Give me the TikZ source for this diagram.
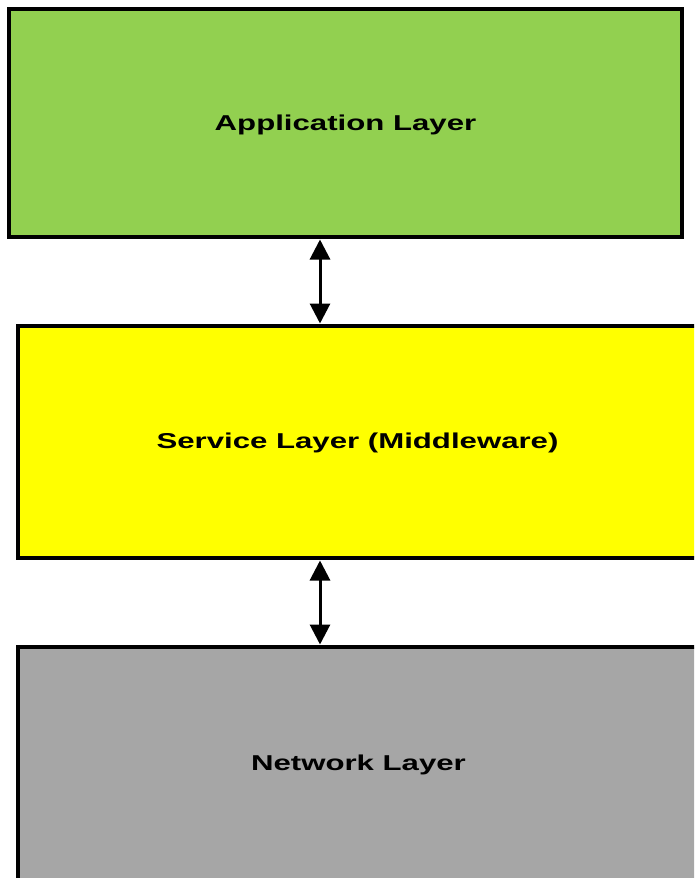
\documentclass[tikz,border=0pt]{standalone}
\usepackage{fontspec}
\setmainfont{Liberation Sans}
\usetikzlibrary{arrows.meta}
\definecolor{appgreen}{HTML}{92D050}
\definecolor{srvyellow}{HTML}{FFFF00}
\definecolor{netgray}{HTML}{A6A6A6}
\tikzset{
  layer/.style={draw=black, line width=3.2pt, inner sep=0pt},
  lbl/.style={font=\fontsize{21.5}{25}\selectfont\bfseries, text=black},
  link/.style={line width=3pt, {Triangle[width=20pt,length=20pt]}-{Triangle[width=20pt,length=20pt]}, shorten <=1pt, shorten >=1pt}
}
\newcommand{\wide}[1]{\scalebox{1.45}[1]{#1}}
\begin{document}
\begin{tikzpicture}[x=1pt,y=-1pt]
  \clip (0,0) rectangle (694,878);
  \fill[white] (0,0) rectangle (694,878);
  % layer boxes
  \draw[layer, fill=appgreen] (9,9) rectangle (682,237);
  \draw[layer, fill=srvyellow] (18,326) rectangle (698,558);
  \draw[layer, fill=netgray] (18,647) rectangle (698,882);
  % labels
  \node[lbl] (app) at (345.5,125) {\wide{Application Layer}};
  \node[lbl] (srv) at (357.5,443) {\wide{Service Layer (Middleware)}};
  \node[lbl] (net) at (358.5,765) {\wide{Network Layer}};
  % connector end points on the box edges
  \coordinate (a1) at (320,238.5);
  \coordinate (a2) at (320,324.5);
  \coordinate (b1) at (320,559.5);
  \coordinate (b2) at (320,645.5);
  \draw[link] (a1) -- (a2);
  \draw[link] (b1) -- (b2);
\end{tikzpicture}
\end{document}
